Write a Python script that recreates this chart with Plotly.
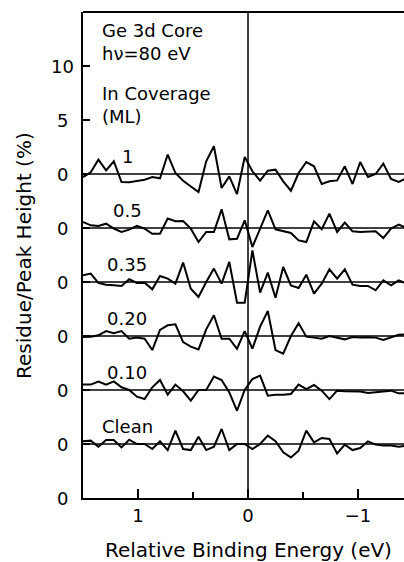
import plotly.graph_objects as go

# Relative binding energy grid (eV) shared by all residue curves
energies = [1.50, 1.43, 1.36, 1.29, 1.22, 1.15, 1.08, 1.01, 0.94, 0.87,
            0.80, 0.73, 0.66, 0.59, 0.52, 0.45, 0.38, 0.31, 0.24, 0.17,
            0.10, 0.03, -0.04, -0.11, -0.18, -0.25, -0.32, -0.39, -0.46, -0.53,
            -0.60, -0.67, -0.74, -0.81, -0.88, -0.95, -1.02, -1.09, -1.16, -1.23,
            -1.30, -1.37, -1.44]

# Fit residue / peak height (%) for each In coverage
res_1 = [-0.28, 0.15, 1.33, 0.34, 1.18, -0.74, -0.77, -0.65, -0.53, -0.28,
         -0.40, 1.80, 0.09, -0.62, -1.15, -1.67, 1.18, 2.57, -1.30, -0.22,
         -1.86, 1.58, 0.25, -0.62, 0.31, 0.40, -0.68, -1.55, 0.09, 1.11,
         0.71, -0.93, -0.68, -0.59, 0.71, -0.93, 1.11, -0.28, 0.00, 0.96,
         -0.46, -0.74, -0.37]
res_05 = [0.56, 0.25, 0.19, 0.40, -0.06, -0.37, -0.15, 0.19, -0.06, -0.53,
          -0.53, 0.87, 0.62, 0.65, -0.06, -1.30, -0.37, -0.37, 1.73, -1.05,
          -0.99, 0.71, -1.76, -0.06, 1.64, -0.12, -0.28, -0.46, -1.15, -1.30,
          0.62, -0.12, 1.33, -0.37, 0.50, -0.31, -0.37, -0.37, -0.31, -0.93,
          -0.06, 0.31, 0.00]
res_035 = [0.62, 0.78, -0.09, -0.25, -0.30, -0.37, 0.25, -0.09, -0.06, -0.68,
           0.56, 0.31, -0.15, 1.80, -0.62, -1.39, 0.00, 1.24, -0.15, 1.86,
           -1.92, -1.92, 2.93, -0.99, 0.87, -1.46, 1.39, -0.31, -0.56, 0.68,
           -1.08, -0.15, 1.18, 0.31, 1.18, -0.25, -0.37, -0.37, -0.77, 0.15,
           -0.31, 0.15, -0.15]
res_020 = [-0.09, -0.06, 0.06, 0.46, 0.25, 0.46, -0.25, -0.15, -0.25, -1.30,
           0.56, 0.99, 1.08, -0.56, -0.99, -1.24, 0.62, 1.92, -0.25, -0.25,
           -1.18, 0.46, -1.18, 0.87, 2.32, -1.30, -1.64, 0.00, 1.18, -0.06,
           -0.15, -0.25, 0.00, -0.15, -0.31, -0.09, -0.15, -0.12, -0.15, -0.37,
           -0.09, 0.12, 0.15]
res_010 = [0.50, 0.50, 0.77, 0.50, 0.80, 0.25, 0.00, -0.62, -0.84, 0.25,
           0.93, -0.43, 0.50, -0.12, -0.99, 0.00, 0.00, 1.24, 0.93, -0.22,
           -1.92, 0.00, 1.02, 1.33, -0.53, -0.43, -0.43, -0.37, 0.50, 0.09,
           0.46, -0.06, -0.84, -0.06, -0.12, -0.12, -0.15, -0.28, -0.22, -0.12,
           -0.06, -0.31, -0.30]
res_clean = [0.25, 0.31, -0.25, 0.37, 0.37, -0.31, 0.40, 0.00, 0.00, -0.46,
             0.25, -0.56, 1.24, -0.46, -0.56, 0.68, -0.56, -0.25, 1.39, -0.56,
             0.00, 0.00, -0.46, 0.00, 0.77, 0.25, -0.77, -1.24, -0.62, 1.24,
             0.15, 0.56, 0.46, -0.87, -0.06, -0.56, -0.37, 0.25, -0.06, -0.15,
             -0.15, -0.25, -0.15]

coverage_labels = ["1", "0.5", "0.35", "0.20", "0.10", "Clean"]
offsets = [30, 25, 20, 15, 10, 5]
residues = [res_1, res_05, res_035, res_020, res_010, res_clean]

# Left-axis tick positions and the labels printed beside them
ytick_vals = [0, 5, 10, 15, 20, 25, 30, 35, 40]
ytick_text = ["0", "0", "0", "0", "0", "0", "0", "5", "10"]

FONT = "DejaVu Sans"
INK = "black"

fig = go.Figure()

for label, off, res in zip(coverage_labels, offsets, residues):
    fig.add_trace(go.Scatter(
        x=energies, y=[off + r for r in res], mode="lines",
        line=dict(color=INK, width=2), showlegend=False, hoverinfo="skip"))

shapes = []
# zero-residue reference line for each curve
for off in offsets:
    shapes.append(dict(type="line", xref="x domain", yref="y", x0=0, x1=1,
                       y0=off, y1=off, line=dict(color=INK, width=1.5)))
# vertical marker at zero relative binding energy
shapes.append(dict(type="line", xref="x", yref="y domain", x0=0, x1=0,
                   y0=0, y1=1, line=dict(color=INK, width=1.5)))
# top frame edge
shapes.append(dict(type="line", xref="x domain", yref="y domain", x0=0, x1=1,
                   y0=1, y1=1, line=dict(color=INK, width=2)))

annotations = []
for label, off in zip(coverage_labels, offsets):
    annotations.append(dict(x=1.10, y=off + 1.6, xref="x", yref="y", text=label,
                            showarrow=False, xanchor="center", yanchor="middle",
                            font=dict(family=FONT, size=18, color=INK)))

for v, t in zip(ytick_vals, ytick_text):
    annotations.append(dict(x=-0.065, y=v, xref="x domain", yref="y", text=t,
                            showarrow=False, xanchor="center", yanchor="middle",
                            font=dict(family=FONT, size=18, color=INK)))

# two-line header blocks in the upper-left corner
header = [("Ge 3d Core<br>h\u03bd=80 eV", 42.2),
          ("In Coverage<br>(ML)", 36.4)]
for text, yv in header:
    annotations.append(dict(x=1.343, y=yv, xref="x", yref="y", text=text,
                            showarrow=False, xanchor="left", yanchor="middle",
                            align="left",
                            font=dict(family=FONT, size=18, color=INK)))

annotations.append(dict(x=0, y=-0.107, xref="x", yref="paper",
                        text="Relative Binding Energy (eV)", showarrow=False,
                        xanchor="center", yanchor="middle",
                        font=dict(family=FONT, size=20, color=INK)))
annotations.append(dict(x=-0.184, y=0.5, xref="paper", yref="paper",
                        text="Residue/Peak Height (%)", textangle=-90,
                        showarrow=False, xanchor="center", yanchor="middle",
                        font=dict(family=FONT, size=20, color=INK)))

fig.update_layout(
    width=404, height=562,
    margin=dict(l=83, r=0, t=12, b=64),
    paper_bgcolor="white", plot_bgcolor="white",
    shapes=shapes, annotations=annotations,
    xaxis=dict(range=[1.5, -1.418], tickvals=[1, 0, -1],
               ticktext=["1", "0", "\u22121"], ticks="inside", ticklen=9,
               tickwidth=1.5, tickcolor=INK, showgrid=False, zeroline=False,
               showline=True, linecolor=INK, linewidth=2,
               tickfont=dict(family=FONT, size=18, color=INK),
               minor=dict(tickvals=[0.5, -0.5], ticks="inside", ticklen=6,
                          tickwidth=1.5, tickcolor=INK, showgrid=False)),
    yaxis=dict(range=[0, 45], tickvals=ytick_vals, showticklabels=False,
               ticks="inside", ticklen=7, tickwidth=1.5, tickcolor=INK,
               showgrid=False, zeroline=False, showline=True,
               linecolor=INK, linewidth=2),
)

fig.write_html("out.html")
